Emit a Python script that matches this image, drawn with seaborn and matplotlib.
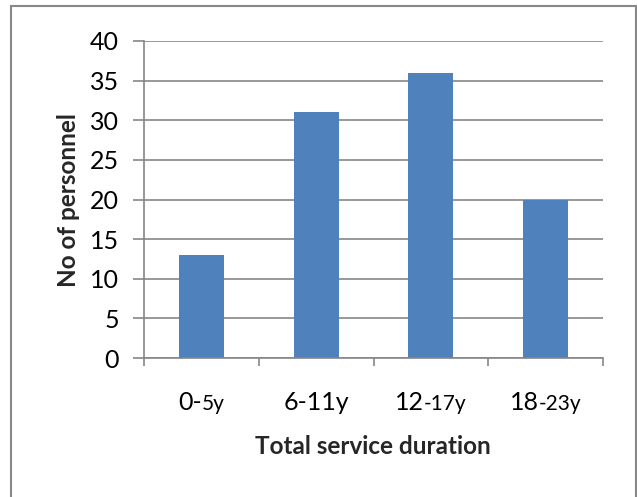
import matplotlib
matplotlib.use("Agg")
import matplotlib.pyplot as plt
import seaborn as sns
import pandas as pd
from matplotlib.offsetbox import TextArea, HPacker, AnnotationBbox
from matplotlib.patches import Rectangle

categories = ["0-5y", "6-11y", "12-17y", "18-23y"]
label_parts = [("0-", "5y"), ("6-11y", ""), ("12", "-17y"), ("18", "-23y")]
values = [13, 31, 36, 20]
y_ticks = [0, 5, 10, 15, 20, 25, 30, 35, 40]

sns.set_theme(style="white")
plt.rcParams['font.family'] = ['Lato', 'DejaVu Sans']

W, H = 637, 497
fig = plt.figure(figsize=(W / 100, H / 100), dpi=100)
ax = fig.add_axes([144 / W, 1 - 358 / H, (603 - 144) / W, (358 - 41) / H])

df = pd.DataFrame({"cat": categories, "val": values})
sns.barplot(data=df, x="cat", y="val", color="#4F81BD", saturation=1, width=0.39,
            linewidth=0, ax=ax)

grid_c = "#868686"
ax.set_ylim(0, 40)
ax.set_xlim(-0.5, len(categories) - 0.5)
ax.set_yticks(y_ticks)
ax.set_yticklabels([str(t) for t in y_ticks], fontsize=18, color="black")
ax.yaxis.grid(True, color=grid_c, linewidth=1.2)
ax.set_axisbelow(True)
ax.tick_params(axis="y", direction="out", length=8, width=1.2, color=grid_c, pad=10, left=True)
ax.set_xticks([i - 0.5 for i in range(len(categories) + 1)])
ax.set_xticklabels([])
ax.tick_params(axis="x", direction="out", length=6, width=1.2, color=grid_c, bottom=True)
for s in ["top", "right"]:
    ax.spines[s].set_visible(False)
for s in ["left", "bottom"]:
    ax.spines[s].set_color(grid_c)
    ax.spines[s].set_linewidth(1.2)

ax.set_xlabel("")
ax.set_ylabel("")

for i, (big, small) in enumerate(label_parts):
    children = [TextArea(big, textprops=dict(fontsize=18, color="black"))]
    if small:
        children.append(TextArea(small, textprops=dict(fontsize=15, color="black")))
    pk = HPacker(children=children, align="baseline", pad=0, sep=0)
    ab = AnnotationBbox(pk, (i, 0), xycoords=("data", "axes fraction"),
                        xybox=(0, -32), boxcoords="offset points",
                        frameon=False, box_alignment=(0.5, 0.5), annotation_clip=False)
    ax.add_artist(ab)

fig.text(373 / W, 1 - 447 / H, "Total service duration", fontsize=17.5, fontweight="bold",
         ha="center", va="center")
fig.text(68 / W, 1 - 200 / H, "No of personnel", fontsize=17.5, fontweight="bold",
         ha="center", va="center", rotation=90)

fig.patches.append(Rectangle((11 / W, -0.01), (636 - 11) / W, 1 - 6 / H + 0.01,
                             transform=fig.transFigure, fill=False,
                             edgecolor="#888888", linewidth=1.5))

fig.savefig("out.png", dpi=100, facecolor="white")
